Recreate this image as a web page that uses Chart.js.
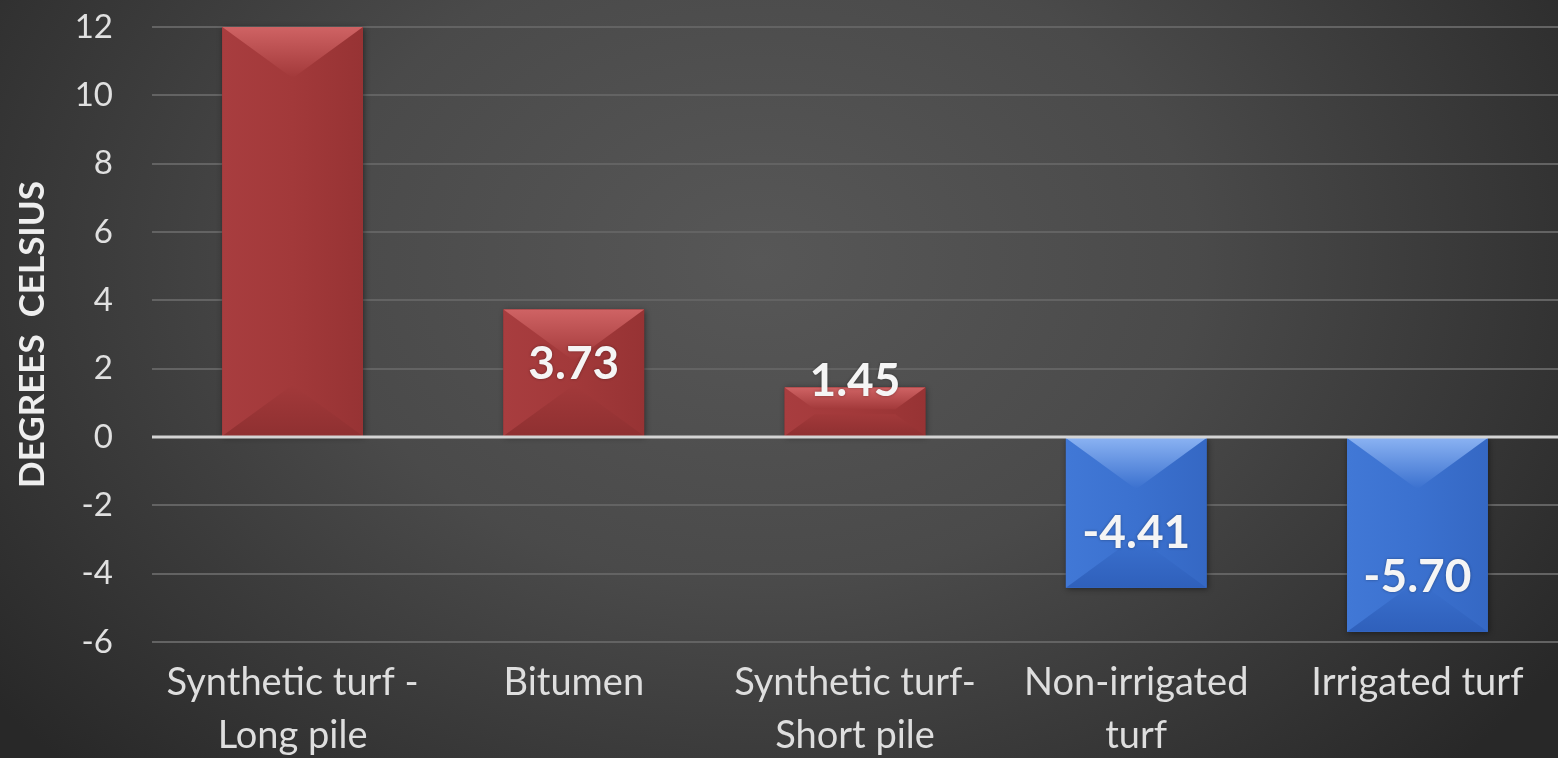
<!DOCTYPE html>
<html>
<head>
<meta charset="utf-8">
<script src="https://cdn.jsdelivr.net/npm/chart.js@4.4.1/dist/chart.umd.min.js"></script>
<style>
  html, body { margin: 0; padding: 0; background: #333; }
  #wrap { width: 1558px; height: 758px; position: relative; }
</style>
</head>
<body>
<div id="wrap"><canvas id="c"></canvas></div>
<script>
// ---- data ----
const categories = [
  ["Synthetic turf -", "Long pile"],
  ["Bitumen"],
  ["Synthetic turf-", "Short pile"],
  ["Non-irrigated", "turf"],
  ["Irrigated turf"]
];
const values = [12, 3.73, 1.45, -4.41, -5.70];
const yMin = -6;
const yMax = 12;
const yStep = 2;
const axisTitle = "DEGREES  CELSIUS";

// ---- styles ----
const RED = { top: '#cf6364', left: '#a83d3f', mid: '#a2393a', right: '#973334', bottom: '#8f3031' };
const BLUE = { top: '#8ab2f2', left: '#4178d6', mid: '#3b71cf', right: '#3568c4', bottom: '#2f60bb' };

const bgPlugin = {
  id: 'bg',
  beforeDraw(chart) {
    const { ctx, width, height } = chart;
    ctx.save();
    ctx.fillStyle = '#2a2a2a';
    ctx.fillRect(0, 0, width, height);
    ctx.translate(760, 260);
    ctx.scale(1.35, 1);
    const g = ctx.createRadialGradient(0, 0, 0, 0, 0, 720);
    g.addColorStop(0, '#575757');
    g.addColorStop(0.45, '#4a4a4a');
    g.addColorStop(1, '#282828');
    ctx.fillStyle = g;
    ctx.fillRect(-800, -600, 1600, 1400);
    ctx.restore();
  }
};

const bevelPlugin = {
  id: 'bevel',
  afterDatasetsDraw(chart) {
    const { ctx } = chart;
    const meta = chart.getDatasetMeta(0);
    const yScale = chart.scales.y;
    const area = chart.chartArea;
    meta.data.forEach((el, i) => {
      const p = el.getProps(['x', 'y', 'base', 'width'], true);
      const L = p.x - p.width / 2, R = p.x + p.width / 2;
      const T = Math.min(p.y, p.base), B = Math.max(p.y, p.base);
      const w = R - L, h = B - T;
      const c = values[i] >= 0 ? RED : BLUE;
      const d = Math.min(0.36 * w, 0.45 * h);
      const ins = Math.min(w / 2, d / 0.73);
      ctx.save();
      ctx.shadowColor = 'rgba(0,0,0,0.45)';
      ctx.shadowBlur = 6;
      ctx.shadowOffsetX = 1; ctx.shadowOffsetY = 1;
      ctx.fillStyle = c.mid;
      ctx.fillRect(L, T, w, h);
      ctx.shadowColor = 'transparent';
      const poly = (pts, fill) => {
        ctx.beginPath();
        ctx.moveTo(pts[0][0], pts[0][1]);
        for (let k = 1; k < pts.length; k++) ctx.lineTo(pts[k][0], pts[k][1]);
        ctx.closePath();
        ctx.fillStyle = fill;
        ctx.fill();
      };
      const gl = ctx.createLinearGradient(L, 0, R, 0);
      gl.addColorStop(0, c.left); gl.addColorStop(0.5, c.mid); gl.addColorStop(1, c.right);
      ctx.fillStyle = gl;
      ctx.fillRect(L, T, w, h);
      const gt = ctx.createLinearGradient(0, T, 0, T + d);
      gt.addColorStop(0, c.top); gt.addColorStop(1, c.mid);
      poly([[L, T], [R, T], [R - ins, T + d], [L + ins, T + d]], gt);
      const gb = ctx.createLinearGradient(0, B - d, 0, B);
      gb.addColorStop(0, c.mid); gb.addColorStop(1, c.bottom);
      poly([[L, B], [R, B], [R - ins, B - d], [L + ins, B - d]], gb);
      ctx.restore();
    });
    const y0 = yScale.getPixelForValue(0);
    ctx.save();
    ctx.strokeStyle = '#d4d4d4';
    ctx.lineWidth = 3;
    ctx.beginPath();
    ctx.moveTo(area.left, y0);
    ctx.lineTo(area.right, y0);
    ctx.stroke();
    ctx.restore();
    ctx.save();
    ctx.font = 'bold 46px Lato';
    ctx.fillStyle = '#f5f5f5';
    ctx.textAlign = 'center';
    ctx.textBaseline = 'middle';
    ctx.shadowColor = 'rgba(0,0,0,0.35)';
    ctx.shadowBlur = 3;
    meta.data.forEach((el, i) => {
      const v = values[i];
      if (v >= yMax || v <= yMin) return;
      const p = el.getProps(['x', 'y', 'base'], true);
      const h = Math.abs(p.base - p.y);
      const off = Math.min(55, h - 55);
      const y = v >= 0 ? p.y + off : p.y - off;
      ctx.fillText(v.toFixed(2), p.x, y);
    });
    ctx.restore();
  }
};

new Chart(document.getElementById('c'), {
  type: 'bar',
  data: {
    labels: categories,
    datasets: [{
      data: values,
      backgroundColor: values.map(v => v >= 0 ? RED.mid : BLUE.mid),
      borderWidth: 0,
      barPercentage: 0.5,
      categoryPercentage: 1.0
    }]
  },
  options: {
    responsive: true,
    maintainAspectRatio: false,
    animation: false,
    layout: { padding: { top: 27, right: 0, left: 0, bottom: 0 } },
    plugins: { legend: { display: false }, tooltip: { enabled: false } },
    scales: {
      x: {
        grid: { display: false, drawTicks: false },
        border: { display: false },
        ticks: {
          color: '#dedede',
          font: { family: 'Lato', size: 38, lineHeight: 1.4 },
          padding: 14,
          maxRotation: 0,
          autoSkip: false
        },
        afterFit(s) { s.height = 116; }
      },
      y: {
        min: yMin,
        max: yMax,
        grid: {
          color: '#636363',
          lineWidth: 2,
          drawTicks: false
        },
        border: { display: false },
        ticks: {
          stepSize: yStep,
          color: '#e0e0e0',
          font: { family: 'Lato', size: 33 },
          padding: 39
        },
        title: {
          display: true,
          text: axisTitle,
          color: '#eeeeee',
          font: { family: 'Lato', size: 35, weight: 'bold' },
          padding: { top: 12, bottom: 0 }
        },
        afterFit(s) { s.width = 152; s.paddingTop = 0; s.paddingBottom = 0; }
      }
    }
  },
  plugins: [bgPlugin, bevelPlugin]
});
</script>
</body>
</html>
